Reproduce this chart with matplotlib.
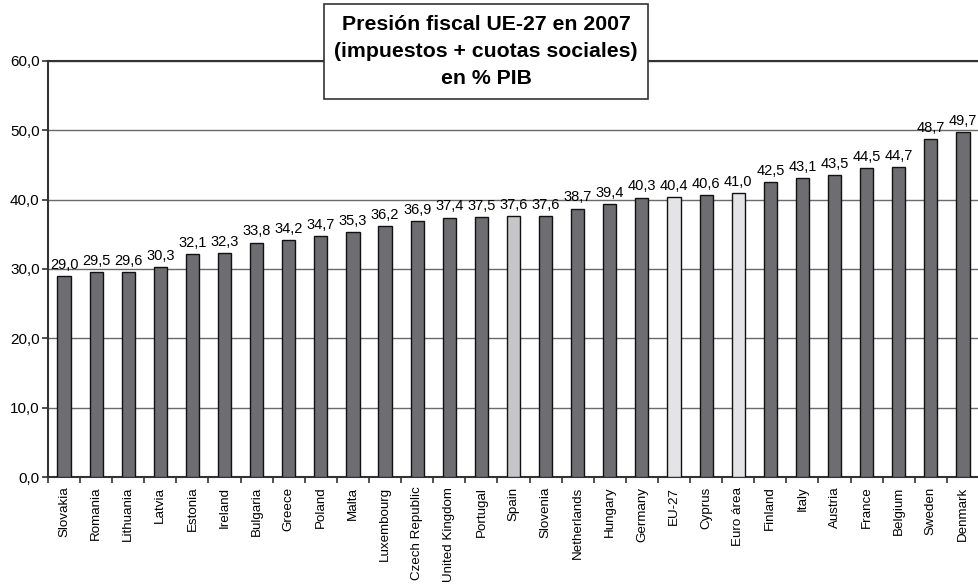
import matplotlib.pyplot as plt
import numpy as np

countries = ["Slovakia", "Romania", "Lithuania", "Latvia", "Estonia", "Ireland",
             "Bulgaria", "Greece", "Poland", "Malta", "Luxembourg", "Czech Republic",
             "United Kingdom", "Portugal", "Spain", "Slovenia", "Netherlands",
             "Hungary", "Germany", "EU-27", "Cyprus", "Euro área", "Finland",
             "Italy", "Austria", "France", "Belgium", "Sweden", "Denmark"]
presion = [29.0, 29.5, 29.6, 30.3, 32.1, 32.3, 33.8, 34.2, 34.7, 35.3, 36.2, 36.9,
           37.4, 37.5, 37.6, 37.6, 38.7, 39.4, 40.3, 40.4, 40.6, 41.0, 42.5,
           43.1, 43.5, 44.5, 44.7, 48.7, 49.7]
destacados = {"Spain": "#c6c6c8", "EU-27": "#e4e4e6", "Euro área": "#e4e4e6"}

plt.rcParams['font.family'] = ['Liberation Sans', 'DejaVu Sans']

fig = plt.figure(figsize=(9.79, 5.86), dpi=100)
ax = fig.add_axes([0.049, 0.186, 0.951, 0.710])

x = np.arange(len(countries))
colores = [destacados.get(c, "#6e6e72") for c in countries]
bars = ax.bar(x, presion, width=0.41, color=colores, edgecolor="#111111",
              linewidth=1.0, zorder=3)

for b, v in zip(bars, presion):
    ax.text(b.get_x() + b.get_width() / 2, v + 0.6, f"{v:.1f}".replace(".", ","),
            ha="center", va="bottom", fontsize=10.5, zorder=4)

ax.set_xlim(-0.5, len(countries) - 0.5)
ax.set_ylim(0, 60)
ax.set_yticks(np.arange(0, 61, 10))
ax.set_yticklabels([f"{t:.1f}".replace(".", ",") for t in np.arange(0, 61, 10)],
                   fontsize=11)
ax.yaxis.grid(True, color="#6a6a6a", linewidth=1.0, zorder=0)
ax.tick_params(axis="y", length=4, width=1.2, color="#333333", pad=2)

# category labels centred on bars, tick marks on the boundaries
ax.set_xticks(x)
ax.set_xticklabels(countries, rotation=90, fontsize=9.6)
ax.tick_params(axis="x", length=0, pad=7)
ax.set_xticks(np.arange(-0.5, len(countries), 1), minor=True)
ax.tick_params(axis="x", which="minor", length=4, width=1.2, color="#333333")

for lado in ("left", "bottom", "top"):
    ax.spines[lado].set_color("#333333")
    ax.spines[lado].set_linewidth(1.5)
ax.spines["right"].set_color("#b0b0b0")

fig.text(0.4965, 0.912, "Presión fiscal UE-27 en 2007\n(impuestos + cuotas sociales)\nen % PIB",
         ha="center", va="center", fontsize=15.3, fontweight="bold", linespacing=1.55,
         bbox=dict(boxstyle="square,pad=0.5", facecolor="white",
                   edgecolor="#333333", linewidth=1.2), zorder=10)

fig.savefig("out.png", dpi=100, facecolor="white")
